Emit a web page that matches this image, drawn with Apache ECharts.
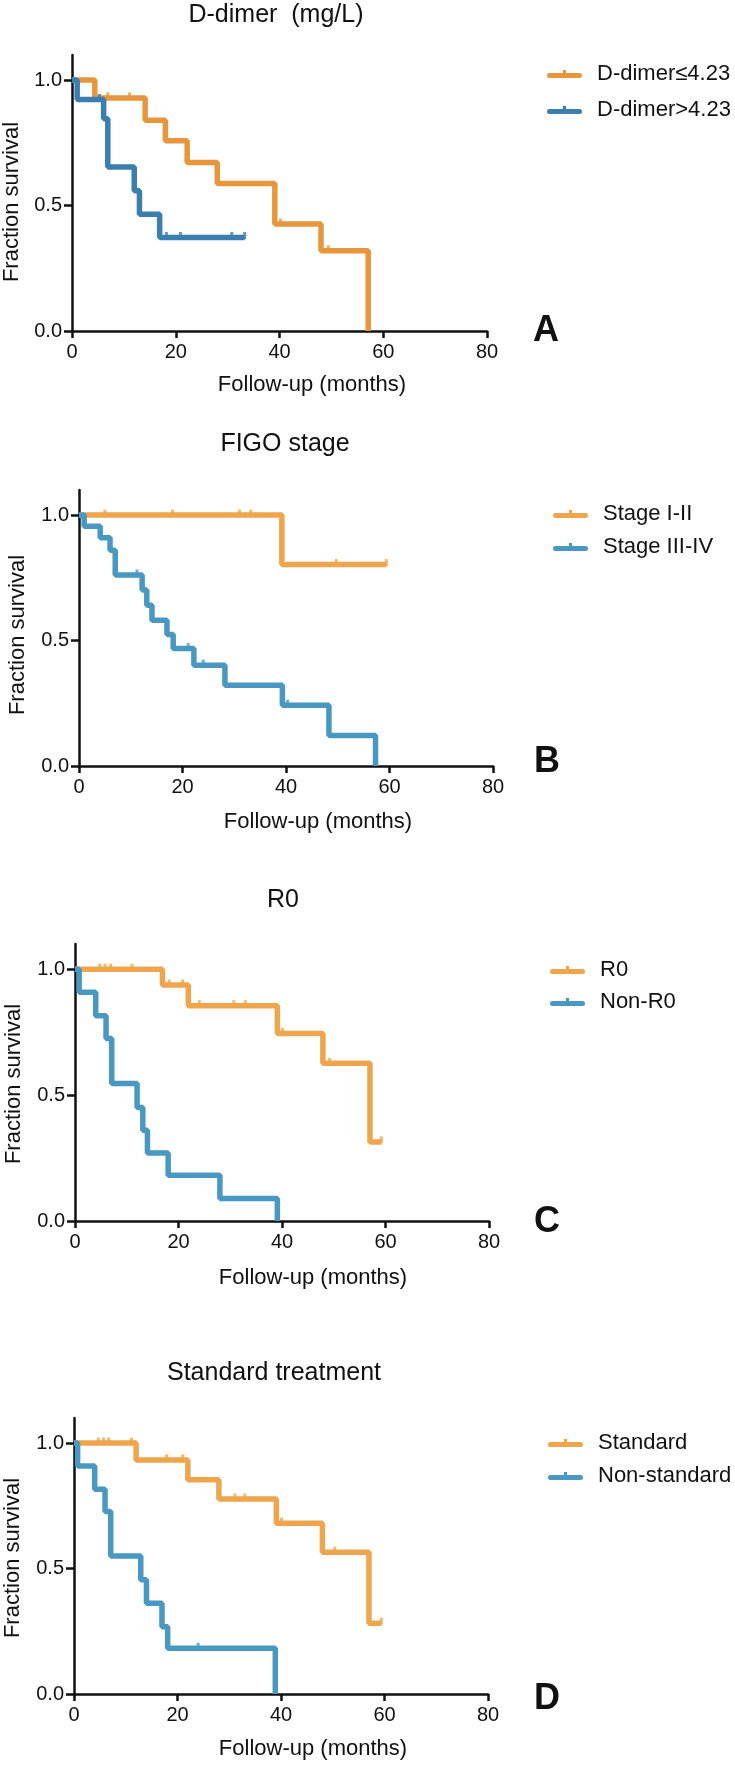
<!DOCTYPE html>
<html>
<head>
<meta charset="utf-8">
<title>Kaplan-Meier survival</title>
<script src="https://cdn.jsdelivr.net/npm/echarts@6/dist/echarts.min.js"></script>
<style>
  html, body { margin: 0; padding: 0; background: #fff; }
  #km { width: 735px; height: 1766px; }
</style>
</head>
<body>
<div id="km"></div>
<script>
// A - D-dimer (mg/L)
const dimerLowT = [0, 4.4, 14.1, 18, 22.2, 28, 39.1, 48, 57.1];
const dimerLowS = [1, 0.929, 0.84, 0.758, 0.672, 0.588, 0.426, 0.32, 0];
const dimerLowCens = [6.9, 11.1, 40.2, 49.4];
const dimerHighT = [0, 1, 6.1, 6.9, 12, 13, 16.9, 33.3];
const dimerHighS = [1, 0.923, 0.846, 0.654, 0.559, 0.465, 0.373, 0.373];
const dimerHighCens = [5.3, 18.2, 20.9, 30.8, 33.3];

// B - FIGO stage
const stageEarlyT = [0, 39.2, 59.4];
const stageEarlyS = [1, 0.803, 0.803];
const stageEarlyCens = [5, 18.1, 31, 33.2, 49.7, 59.4];
const stageLateT = [0, 1, 4.1, 6, 7, 12.2, 13.1, 14.1, 17, 18.2, 22.2, 28.2, 39.3, 48.3, 57.3];
const stageLateS = [1, 0.956, 0.91, 0.86, 0.761, 0.701, 0.641, 0.581, 0.524, 0.468, 0.402, 0.322, 0.242, 0.122, 0];
const stageLateCens = [11.2, 21.1, 24, 40.3];

// C - R0
const r0T = [0, 16.9, 21.9, 39.1, 47.9, 57, 59.2];
const r0S = [1, 0.937, 0.855, 0.745, 0.626, 0.314, 0.314];
const r0Cens = [4.8, 5.8, 6.9, 11, 18.2, 20.8, 24, 30.7, 32.9, 40.1, 49.2, 59.2];
const nonR0T = [0, 0.8, 4, 6, 7.1, 12, 13.1, 14, 18, 28, 39.1];
const nonR0S = [1, 0.908, 0.815, 0.725, 0.546, 0.451, 0.36, 0.27, 0.182, 0.089, 0];
const nonR0Cens = [];

// D - Standard treatment
const stdT = [0, 12, 22, 28, 39.1, 48, 57, 59.4];
const stdS = [1, 0.933, 0.854, 0.777, 0.681, 0.565, 0.282, 0.282];
const stdCens = [4.7, 5.7, 6.7, 11.1, 17.9, 21, 31.1, 33, 40.1, 50.4, 59.4];
const nonStdT = [0, 0.7, 4, 6, 7.1, 12.9, 14, 17, 18.1, 38.9];
const nonStdS = [1, 0.909, 0.816, 0.727, 0.55, 0.455, 0.362, 0.268, 0.182, 0];
const nonStdCens = [24];

const titles = ['D-dimer  (mg/L)', 'FIGO stage', 'R0', 'Standard treatment'];
const panelLetters = ['A', 'B', 'C', 'D'];
const groupNames = [
  ['D-dimer≤4.23', 'D-dimer>4.23'],
  ['Stage I-II', 'Stage III-IV'],
  ['R0', 'Non-R0'],
  ['Standard', 'Non-standard']
];
const xTicks = [0, 20, 40, 60, 80];
const yTicks = [0, 0.5, 1];

const FONT = '"Liberation Sans", Arial, Helvetica, sans-serif';
const INK = '#111';

// grid boxes and text anchors per panel
const layout = [
  { grid: [72, 55, 415, 276], title: [276, 15], yName: [12, 202], xName: [312, 385], letter: [546, 331], legend: [547, 63, 36] },
  { grid: [79, 490, 414, 276], title: [285, 444], yName: [18, 635], xName: [318, 822], letter: [547, 762], legend: [553, 503, 33] },
  { grid: [75, 944, 414, 277], title: [283, 900], yName: [14, 1084], xName: [313, 1278], letter: [547, 1222], legend: [550, 959, 32] },
  { grid: [74, 1418, 414, 276], title: [274, 1373], yName: [13, 1558], xName: [313, 1749], letter: [547, 1699], legend: [548, 1432, 33] }
];

const curves = [
  [[dimerLowT, dimerLowS, dimerLowCens, '#E8963C'], [dimerHighT, dimerHighS, dimerHighCens, '#3B7FB1']],
  [[stageEarlyT, stageEarlyS, stageEarlyCens, '#EFA54C'], [stageLateT, stageLateS, stageLateCens, '#4898C2']],
  [[r0T, r0S, r0Cens, '#EFA54C'], [nonR0T, nonR0S, nonR0Cens, '#4898C2']],
  [[stdT, stdS, stdCens, '#EFA54C'], [nonStdT, nonStdS, nonStdCens, '#4898C2']]
];

function pairs(t, s) {
  return t.map((v, i) => [v, s[i]]);
}

// survival level of the step curve at a censoring time
function censorPairs(cens, t, s) {
  return cens.map(c => {
    let k = 0;
    for (let i = 0; i < t.length; i++) if (t[i] <= c) k = i;
    return [c, s[k]];
  });
}

function textEl(text, x, y, font, extra) {
  return Object.assign({
    type: 'text', x: x, y: y, silent: true,
    style: {
      text: text, fill: INK, font: font,
      align: 'center', verticalAlign: 'middle',
      textAlign: 'center', textVerticalAlign: 'middle'
    }
  }, extra || {});
}

const grids = [], xAxes = [], yAxes = [], series = [], legends = [], graphics = [];

layout.forEach((p, k) => {
  grids.push({ left: p.grid[0], top: p.grid[1], width: p.grid[2], height: p.grid[3], outerBoundsMode: 'none', containLabel: false });

  xAxes.push({
    type: 'value', gridIndex: k, min: 0, max: 80, interval: 20,
    axisLine: { show: true, onZero: false, lineStyle: { color: INK, width: 2.5 } },
    axisTick: { show: true, length: 7, lineStyle: { color: INK, width: 2.5 }, customValues: xTicks },
    axisLabel: { margin: 11, fontSize: 20, color: INK, fontFamily: FONT, customValues: xTicks },
    splitLine: { show: false }
  });

  yAxes.push({
    type: 'value', gridIndex: k, min: 0, max: 1.1,
    axisLine: { show: true, onZero: false, lineStyle: { color: INK, width: 2.5 } },
    axisTick: { show: true, length: 8, lineStyle: { color: INK, width: 2.5 }, customValues: yTicks },
    axisLabel: { margin: 10, fontSize: 20, color: INK, fontFamily: FONT, customValues: yTicks, formatter: v => v.toFixed(1) },
    splitLine: { show: false }
  });

  curves[k].forEach((c, j) => {
    const name = groupNames[k][j];
    series.push({
      name: name, type: 'line', step: 'end', xAxisIndex: k, yAxisIndex: k,
      data: pairs(c[0], c[1]), showSymbol: false, clip: false, z: 3 + j,
      color: c[3], lineStyle: { color: c[3], width: 5.5 }
    });
    if (c[2].length) {
      series.push({
        name: name + ' (censored)', type: 'scatter', xAxisIndex: k, yAxisIndex: k,
        data: censorPairs(c[2], c[0], c[1]), symbol: 'rect', symbolSize: [3, 7], symbolOffset: [0, -2],
        itemStyle: { color: c[3] }, z: 3 + j, silent: true
      });
    }
  });

  legends.push({
    data: groupNames[k], orient: 'vertical', left: p.legend[0], top: p.legend[1],
    padding: 0, itemGap: p.legend[2] - 22, itemWidth: 35, itemHeight: 8,
    icon: 'path://M2.5,4 L16,4 L16,1 L19,1 L19,4 L32.5,4 A2.5,2.5 0 0 1 32.5,9 L2.5,9 A2.5,2.5 0 0 1 2.5,4 Z',
    selectedMode: false,
    textStyle: { fontSize: 22, color: INK, fontFamily: FONT, padding: [0, 0, 0, 10] }
  });

  graphics.push(textEl(titles[k], p.title[0], p.title[1], '25px ' + FONT));
  graphics.push(textEl('Fraction survival', p.yName[0], p.yName[1], '22px ' + FONT, { rotation: Math.PI / 2 }));
  graphics.push(textEl('Follow-up (months)', p.xName[0], p.xName[1], '22px ' + FONT));
  graphics.push(textEl(panelLetters[k], p.letter[0], p.letter[1], 'bold 36px ' + FONT));
});

const chart = echarts.init(document.getElementById('km'));
chart.setOption({
  animation: false,
  backgroundColor: '#fff',
  textStyle: { fontFamily: FONT },
  grid: grids,
  xAxis: xAxes,
  yAxis: yAxes,
  legend: legends,
  graphic: graphics,
  series: series
});
</script>
</body>
</html>
